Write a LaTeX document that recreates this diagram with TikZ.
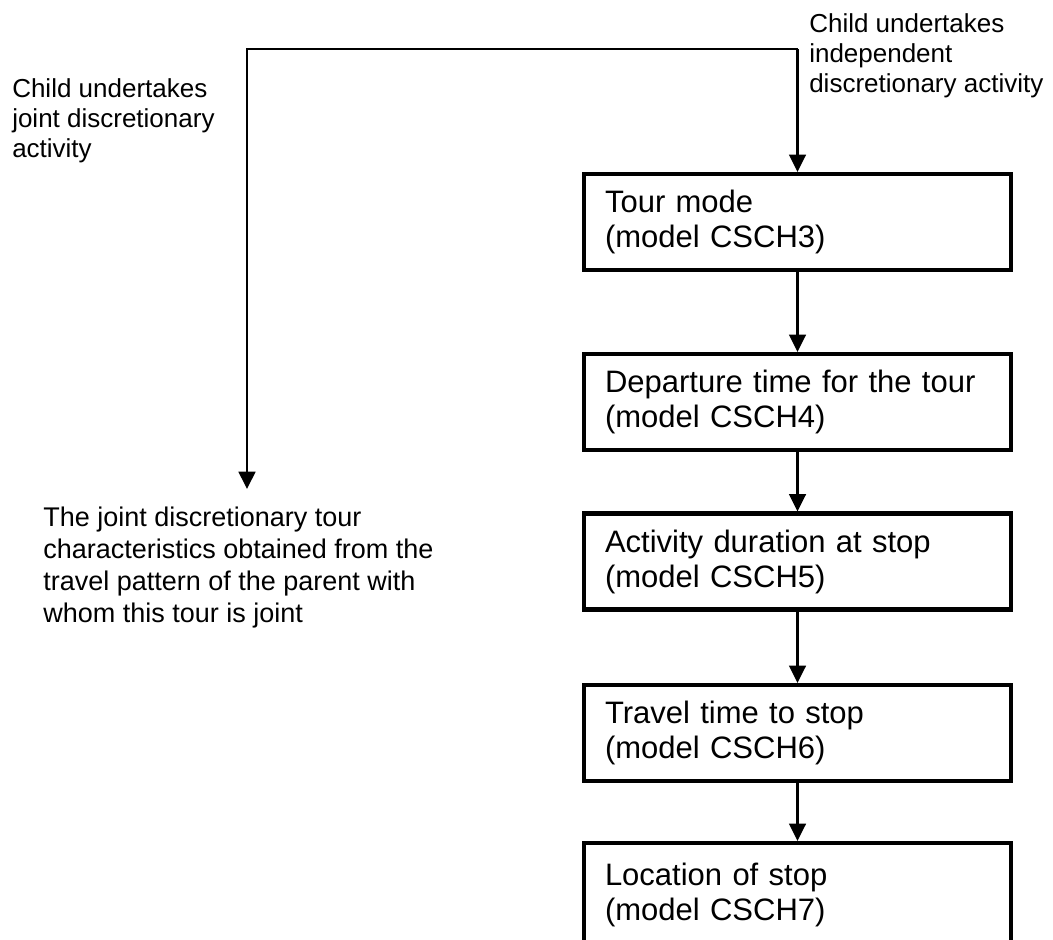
\documentclass[tikz,border=0pt]{standalone}
\usepackage{fontspec}
\setmainfont{Liberation Sans}
\usetikzlibrary{arrows.meta}
\begin{document}
\begin{tikzpicture}[x=0.75pt,y=-0.75pt,
  box/.style={draw, line width=3.1pt, inner xsep=15.75pt, inner ysep=0pt,
    text width=288.75pt, minimum height=72pt, align=left,
    font=\fontsize{23.25pt}{26.25pt}\selectfont},
  lbl/.style={anchor=north west, inner sep=0pt, align=left,
    font=\fontsize{19.5pt}{22.5pt}\selectfont},
  arr/.style={line width=1.95pt, line join=miter, -{Triangle[length=13pt,width=12.5pt]}}]
\useasboundingbox (0,0) rectangle (1053,939);
% boxes
\node[box] (b1) at (797.5,222) {Tour mode\\(model CSCH3)};
\node[box] (b2) at (797.5,402) {Departure time for the tour\\(model CSCH4)};
\node[box] (b3) at (797.5,561.5) {Activity duration at stop\\(model CSCH5)};
\node[box] (b4) at (797.5,733) {Travel time to stop\\(model CSCH6)};
\node[box, minimum height=78pt] (b5) at (797.5,895) {Location of stop\\(model CSCH7)};
% labels
\node[lbl] (indep) at (809,13) {Child undertakes\\independent\\discretionary activity};
\node[lbl] (jointlbl) at (12,78) {Child undertakes\\joint discretionary\\activity};
\node[lbl, font=\fontsize{20.25pt}{24pt}\selectfont] (joint) at (43,507)
  {The joint discretionary tour\\characteristics obtained from the\\travel pattern of the parent with\\whom this tour is joint};
% connectors
\coordinate (split) at (797.5,49);
\coordinate (lc) at (247,49);
\coordinate (jend) at (247,489);
\draw[arr] (split) -- (b1.north);
\draw[arr] (split) -- (lc) -- (jend);
\draw[arr] (b1.south) -- (b2.north);
\draw[arr] (b2.south) -- (b3.north);
\draw[arr] (b3.south) -- (b4.north);
\draw[arr] (b4.south) -- (b5.north);
\end{tikzpicture}
\end{document}
